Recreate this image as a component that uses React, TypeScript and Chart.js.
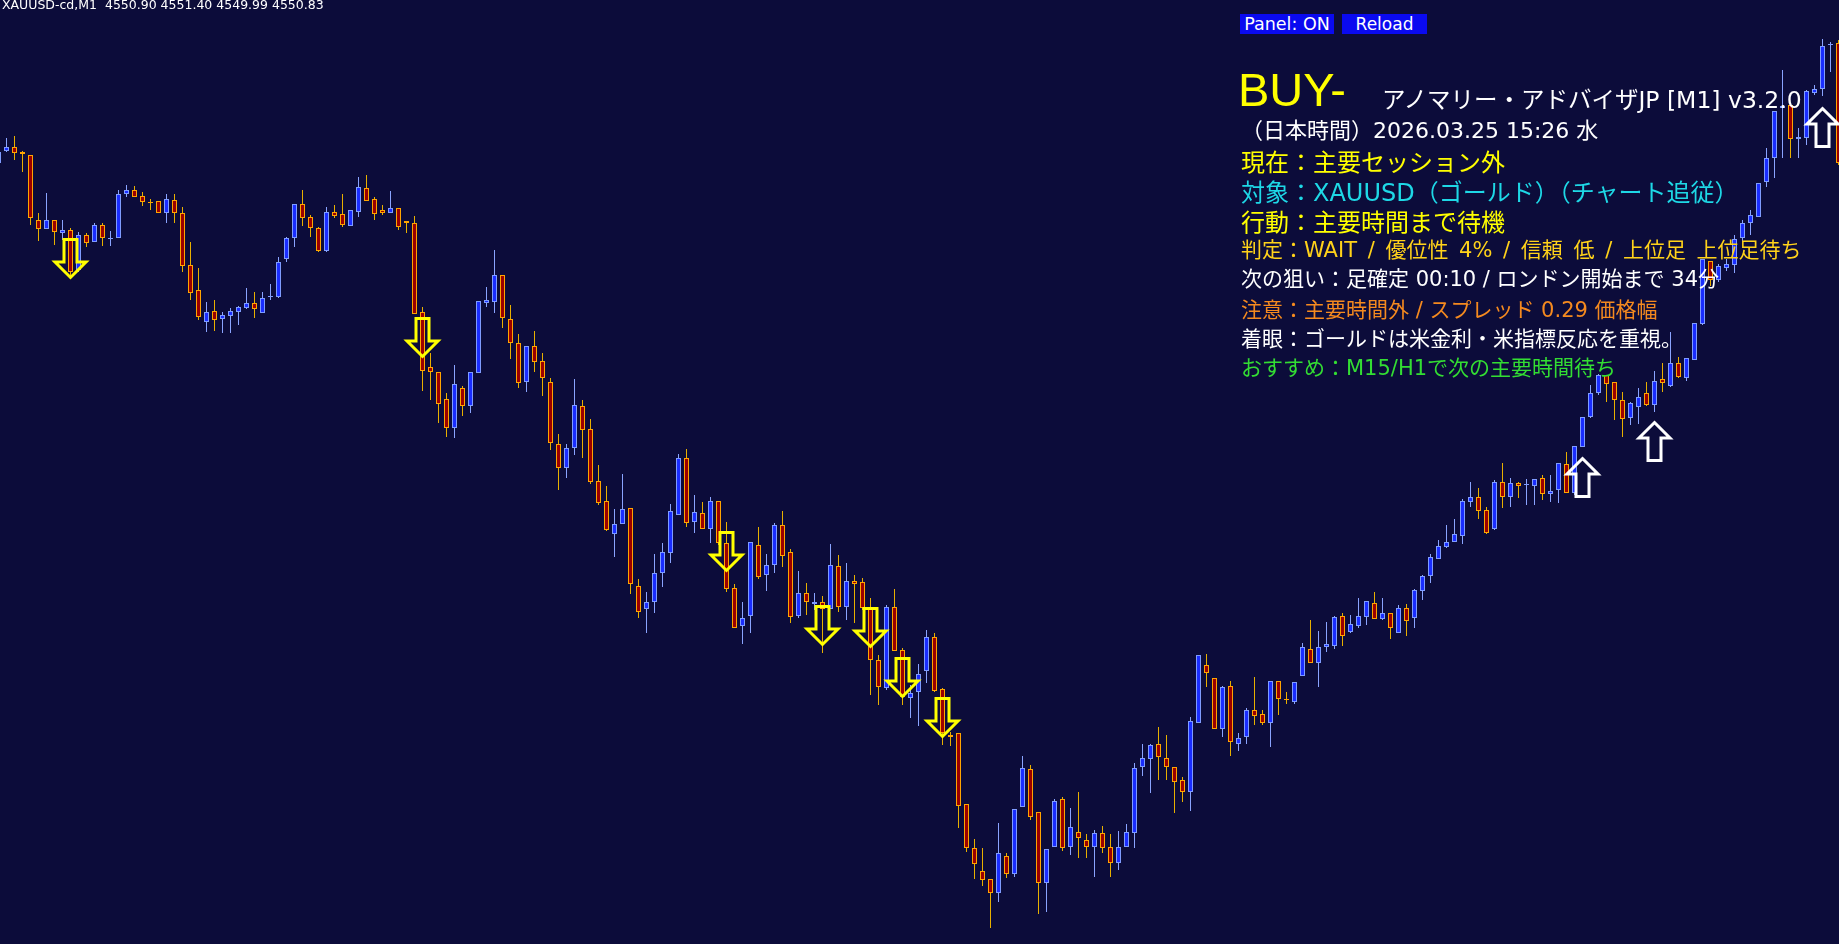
import React, { useEffect, useRef } from 'react';
import { Chart, registerables } from 'chart.js';

Chart.register(...registerables);

// ---- data (M1 bars, first bar index = -1, partially off-screen) ----
const FIRST_BAR = -1;

const opens = [
  4558.37, 4558.49, 4558.53, 4558.48, 4558.45, 4557.80, 4557.71, 4557.80, 4557.67, 4557.70,
  4557.30, 4557.65, 4557.58, 4557.75, 4557.61, 4557.62, 4558.06, 4558.10, 4558.04, 4557.98,
  4557.99, 4557.87, 4558.00, 4557.87, 4557.35, 4557.10, 4556.78, 4556.89, 4556.81, 4556.84,
  4556.88, 4556.92, 4556.97, 4556.87, 4557.03, 4557.03, 4557.41, 4557.62, 4557.96, 4557.83,
  4557.72, 4557.49, 4557.88, 4557.86, 4557.74, 4557.88, 4558.12, 4558.01, 4557.90, 4557.87,
  4557.92, 4557.79, 4557.77, 4556.88, 4556.33, 4556.28, 4556.01, 4555.72, 4556.12, 4555.94,
  4556.27, 4556.97, 4556.98, 4557.25, 4556.81, 4556.57, 4556.18, 4556.54, 4556.39, 4556.18,
  4555.56, 4555.32, 4555.52, 4555.94, 4555.71, 4555.19, 4554.99, 4554.66, 4554.76, 4554.92,
  4554.14, 4553.91, 4553.98, 4554.27, 4554.47, 4554.85, 4555.42, 4554.78, 4554.87, 4554.71,
  4554.99, 4554.57, 4554.12, 4553.74, 4553.84, 4554.55, 4554.25, 4554.35, 4554.75, 4554.48,
  4553.84, 4554.07, 4553.96, 4553.98, 4553.91, 4554.34, 4553.93, 4554.19, 4554.18, 4553.92,
  4553.40, 4553.12, 4553.93, 4553.50, 4553.02, 4553.08, 4553.29, 4553.63, 4553.11, 4552.65,
  4552.67, 4551.96, 4551.52, 4551.29, 4551.21, 4551.07, 4551.44, 4551.26, 4551.93, 4552.31,
  4551.88, 4551.17, 4551.53, 4552.01, 4551.53, 4551.68, 4551.60, 4551.53, 4551.67, 4551.53,
  4551.37, 4551.53, 4551.67, 4552.33, 4552.41, 4552.56, 4552.42, 4552.33, 4552.20, 4552.08,
  4552.77, 4553.35, 4553.22, 4552.71, 4553.14, 4552.56, 4552.63, 4552.90, 4552.86, 4552.77,
  4553.19, 4553.01, 4552.98, 4553.24, 4553.51, 4553.37, 4553.53, 4553.54, 4553.84, 4553.68,
  4553.74, 4553.83, 4553.97, 4553.81, 4553.87, 4553.67, 4553.92, 4553.82, 4554.09, 4554.24,
  4554.41, 4554.53, 4554.58, 4554.64, 4554.98, 4555.03, 4554.90, 4554.71, 4555.18, 4555.03,
  4555.17, 4555.15, 4555.14, 4555.22, 4555.06, 4555.10, 4555.36, 4555.07, 4555.53, 4555.83,
  4556.07, 4556.25, 4556.18, 4556.00, 4555.82, 4555.93, 4556.07, 4555.95, 4556.21, 4556.14,
  4556.37, 4556.22, 4556.40, 4556.76, 4557.39, 4557.20, 4557.32, 4557.35, 4557.62, 4557.77,
  4557.83, 4558.18, 4558.42, 4558.92, 4558.95, 4558.61, 4558.62, 4559.07, 4559.11, 4559.55, 4559.57,
];

const highs = [
  4558.50, 4558.62, 4558.64, 4558.49, 4558.45, 4557.87, 4558.07, 4557.80, 4557.80, 4557.72,
  4557.68, 4557.67, 4557.77, 4557.77, 4557.69, 4558.10, 4558.15, 4558.14, 4558.08, 4558.01,
  4557.99, 4558.06, 4558.06, 4557.93, 4557.58, 4557.32, 4556.98, 4557.00, 4556.88, 4556.92,
  4556.94, 4557.12, 4557.08, 4557.08, 4557.16, 4557.43, 4557.63, 4557.96, 4558.10, 4557.85,
  4557.73, 4557.93, 4557.95, 4558.06, 4557.90, 4558.23, 4558.25, 4558.03, 4557.95, 4558.09,
  4557.92, 4557.79, 4557.84, 4556.93, 4556.47, 4556.28, 4556.07, 4556.35, 4556.14, 4556.28,
  4556.99, 4557.13, 4557.50, 4557.25, 4556.95, 4556.66, 4556.54, 4556.69, 4556.47, 4556.22,
  4555.66, 4555.56, 4556.21, 4556.00, 4555.81, 4555.35, 4555.14, 4554.91, 4555.26, 4554.92,
  4554.21, 4554.08, 4554.46, 4554.57, 4554.96, 4555.46, 4555.51, 4555.05, 4554.98, 4555.03,
  4554.99, 4554.78, 4554.16, 4553.98, 4554.58, 4554.73, 4554.46, 4554.77, 4554.89, 4554.51,
  4554.29, 4554.17, 4554.07, 4554.04, 4554.56, 4554.45, 4554.37, 4554.25, 4554.22, 4554.02,
  4553.45, 4553.95, 4554.11, 4553.52, 4553.15, 4553.36, 4553.70, 4553.67, 4553.12, 4552.68,
  4552.67, 4551.96, 4551.61, 4551.52, 4551.21, 4551.77, 4551.47, 4551.91, 4552.44, 4552.35,
  4551.88, 4551.51, 4552.01, 4552.03, 4551.92, 4552.08, 4551.66, 4551.70, 4551.74, 4551.66,
  4551.69, 4551.76, 4552.37, 4552.56, 4552.56, 4552.73, 4552.65, 4552.33, 4552.23, 4552.83,
  4553.45, 4553.46, 4553.22, 4553.14, 4553.19, 4552.67, 4552.92, 4553.23, 4552.90, 4553.19,
  4553.19, 4553.08, 4553.18, 4553.57, 4553.80, 4553.69, 4553.78, 4553.84, 4553.87, 4553.85,
  4554.02, 4553.99, 4554.08, 4554.02, 4553.87, 4553.95, 4553.96, 4554.11, 4554.25, 4554.46,
  4554.60, 4554.75, 4554.81, 4555.01, 4555.18, 4555.12, 4554.93, 4555.20, 4555.37, 4555.22,
  4555.18, 4555.21, 4555.21, 4555.25, 4555.25, 4555.37, 4555.48, 4555.54, 4555.83, 4556.15,
  4556.26, 4556.25, 4556.18, 4556.08, 4555.98, 4556.12, 4556.18, 4556.29, 4556.37, 4556.68,
  4556.43, 4556.42, 4556.77, 4557.41, 4557.39, 4557.36, 4557.41, 4557.65, 4557.80, 4557.90,
  4558.17, 4558.52, 4558.89, 4559.30, 4558.95, 4558.72, 4559.10, 4559.15, 4559.61, 4559.58, 4559.60,
];

const lows = [
  4558.35, 4558.48, 4558.40, 4558.28, 4557.75, 4557.59, 4557.71, 4557.55, 4557.60, 4557.23,
  4557.28, 4557.53, 4557.58, 4557.54, 4557.54, 4557.62, 4558.03, 4558.03, 4557.94, 4557.90,
  4557.87, 4557.77, 4557.77, 4557.28, 4557.00, 4556.80, 4556.68, 4556.69, 4556.67, 4556.67,
  4556.75, 4556.91, 4556.82, 4556.87, 4557.00, 4557.02, 4557.38, 4557.53, 4557.74, 4557.63,
  4557.48, 4557.48, 4557.82, 4557.73, 4557.74, 4557.83, 4557.99, 4557.80, 4557.85, 4557.87,
  4557.70, 4557.67, 4556.86, 4556.09, 4556.00, 4555.77, 4555.63, 4555.62, 4555.84, 4555.87,
  4556.27, 4556.93, 4556.87, 4556.72, 4556.41, 4556.12, 4556.08, 4556.28, 4556.04, 4555.50,
  4555.10, 4555.22, 4555.45, 4555.42, 4555.16, 4554.95, 4554.69, 4554.43, 4554.76, 4554.06,
  4553.82, 4553.67, 4553.87, 4554.13, 4554.37, 4554.85, 4554.73, 4554.67, 4554.71, 4554.57,
  4554.55, 4554.08, 4553.72, 4553.56, 4553.67, 4554.21, 4554.09, 4554.27, 4554.33, 4553.77,
  4553.82, 4553.85, 4553.90, 4553.47, 4553.91, 4553.88, 4553.80, 4553.77, 4553.90, 4553.05,
  4552.95, 4553.10, 4553.49, 4552.95, 4552.82, 4552.74, 4553.17, 4553.08, 4552.55, 4552.54,
  4551.72, 4551.48, 4551.21, 4551.14, 4550.72, 4550.98, 4551.22, 4551.23, 4551.93, 4551.80,
  4550.86, 4550.88, 4551.53, 4551.49, 4551.45, 4551.42, 4551.42, 4551.23, 4551.47, 4551.23,
  4551.30, 4551.53, 4551.52, 4552.24, 4552.07, 4552.20, 4552.20, 4551.87, 4551.98, 4551.89,
  4552.77, 4553.13, 4552.71, 4552.63, 4552.44, 4552.49, 4552.56, 4552.75, 4552.75, 4552.53,
  4552.85, 4552.96, 4552.96, 4553.24, 4553.37, 4553.13, 4553.48, 4553.51, 4553.54, 4553.67,
  4553.72, 4553.75, 4553.81, 4553.80, 4553.61, 4553.67, 4553.64, 4553.72, 4554.00, 4554.17,
  4554.41, 4554.52, 4554.58, 4554.56, 4554.93, 4554.81, 4554.66, 4554.70, 4554.92, 4554.93,
  4555.02, 4554.95, 4554.95, 4555.00, 4554.98, 4554.97, 4555.07, 4555.05, 4555.53, 4555.82,
  4556.05, 4555.98, 4555.80, 4555.63, 4555.75, 4555.76, 4555.94, 4555.88, 4556.08, 4556.13,
  4556.22, 4556.19, 4556.40, 4556.75, 4557.14, 4557.18, 4557.29, 4557.27, 4557.58, 4557.65,
  4557.83, 4558.13, 4558.22, 4558.42, 4558.42, 4558.42, 4558.55, 4559.05, 4559.04, 4559.28, 4558.35,
];

const closes = [
  4558.48, 4558.53, 4558.47, 4558.46, 4557.82, 4557.71, 4557.80, 4557.68, 4557.70, 4557.28,
  4557.65, 4557.57, 4557.75, 4557.62, 4557.62, 4558.06, 4558.10, 4558.03, 4557.98, 4557.97,
  4557.87, 4558.01, 4557.87, 4557.34, 4557.07, 4556.83, 4556.88, 4556.80, 4556.85, 4556.89,
  4556.93, 4556.97, 4556.91, 4557.02, 4557.04, 4557.38, 4557.62, 4557.96, 4557.82, 4557.72,
  4557.49, 4557.88, 4557.84, 4557.75, 4557.90, 4558.13, 4557.99, 4557.86, 4557.87, 4557.92,
  4557.73, 4557.77, 4556.86, 4556.29, 4556.28, 4555.96, 4555.72, 4556.16, 4555.94, 4556.28,
  4556.99, 4557.00, 4557.25, 4556.82, 4556.57, 4556.17, 4556.54, 4556.38, 4556.22, 4555.57,
  4555.32, 4555.52, 4555.95, 4555.70, 4555.18, 4554.97, 4554.70, 4554.76, 4554.91, 4554.16,
  4553.88, 4553.98, 4554.27, 4554.48, 4554.89, 4555.42, 4554.77, 4554.88, 4554.71, 4554.99,
  4554.57, 4554.11, 4553.72, 4553.82, 4554.58, 4554.23, 4554.35, 4554.75, 4554.44, 4553.83,
  4554.07, 4553.98, 4553.98, 4553.91, 4554.35, 4553.93, 4554.19, 4554.16, 4553.92, 4553.40,
  4553.13, 4553.93, 4553.49, 4553.03, 4553.07, 4553.26, 4553.63, 4553.09, 4552.67, 4552.63,
  4551.94, 4551.52, 4551.36, 4551.20, 4551.07, 4551.47, 4551.26, 4551.91, 4552.32, 4551.83,
  4551.17, 4551.51, 4551.99, 4551.52, 4551.73, 4551.62, 4551.53, 4551.67, 4551.52, 4551.37,
  4551.53, 4551.68, 4552.32, 4552.42, 4552.55, 4552.43, 4552.33, 4552.18, 4552.08, 4552.79,
  4553.45, 4553.27, 4552.71, 4553.13, 4552.58, 4552.62, 4552.90, 4552.84, 4552.77, 4553.19,
  4553.01, 4553.00, 4553.18, 4553.53, 4553.37, 4553.53, 4553.56, 4553.83, 4553.64, 4553.76,
  4553.84, 4553.99, 4553.81, 4553.87, 4553.72, 4553.92, 4553.79, 4554.10, 4554.24, 4554.43,
  4554.54, 4554.58, 4554.66, 4554.99, 4555.03, 4554.89, 4554.67, 4555.18, 4555.03, 4555.17,
  4555.14, 4555.16, 4555.21, 4555.06, 4555.09, 4555.37, 4555.07, 4555.54, 4555.83, 4556.07,
  4556.25, 4556.16, 4556.00, 4555.81, 4555.97, 4556.03, 4555.95, 4556.19, 4556.17, 4556.37,
  4556.23, 4556.42, 4556.77, 4557.41, 4557.20, 4557.34, 4557.36, 4557.61, 4557.77, 4557.85,
  4558.17, 4558.42, 4558.89, 4558.94, 4558.61, 4558.63, 4559.09, 4559.11, 4559.54, 4559.56, 4558.37,
];

// signal arrows (bar index, price at arrow centre)
const sellBars = [8, 52, 90, 102, 108, 112, 117];
const sellPrices = [4557.41, 4556.62, 4554.48, 4553.74, 4553.72, 4553.22, 4552.82];
const buyBars = [197, 206, 227];
const buyPrices = [4555.22, 4555.58, 4558.72];

// visible window
const PRICE_TOP = 4560.0;
const PRICE_BOTTOM = 4550.56;
const BAR_MIN = -0.8125;
const BAR_MAX = 229.0625;

const headerText = 'XAUUSD-cd,M1  4550.90 4551.40 4549.99 4550.83';
const panelLines = [
  { t: '（日本時間）2026.03.25 15:26 水', c: '#ffffff', s: 22, top: 120, ws: 0 },
  { t: '現在：主要セッション外', c: '#ffff00', s: 24, top: 151, ws: 0 },
  { t: '対象：XAUUSD（ゴールド）（チャート追従）', c: '#1ed8e6', s: 24, top: 181, ws: 0 },
  { t: '行動：主要時間まで待機', c: '#ffff00', s: 24, top: 211, ws: 0 },
  { t: '判定：WAIT / 優位性 4% / 信頼 低 / 上位足 上位足待ち', c: '#ffd21a', s: 21, top: 240, ws: 4 },
  { t: '次の狙い：足確定 00:10 / ロンドン開始まで 34分', c: '#ffffff', s: 21, top: 269, ws: 0 },
  { t: '注意：主要時間外 / スプレッド 0.29 価格幅', c: '#f58a1f', s: 21, top: 300, ws: 0 },
  { t: '着眼：ゴールドは米金利・米指標反応を重視。', c: '#ffffff', s: 21, top: 329, ws: 0 },
  { t: 'おすすめ：M15/H1で次の主要時間待ち', c: '#33dd33', s: 21, top: 358, ws: 0 },
];

const BG = '#0c0c3a';
const BULL_FILL = '#1a2dff';
const BULL_BORDER = '#7f9cff';
const BULL_WICK = '#8aa4ff';
const BEAR_FILL = '#9a0000';
const BEAR_BORDER = '#ffa500';
const BEAR_WICK = '#e8b000';
const FONT = "'DejaVu Sans', 'Noto Sans CJK JP', sans-serif";

function makeArrow(dir: 'up' | 'down', color: string) {
  const c = document.createElement('canvas');
  c.width = 41;
  c.height = 48;
  const ctx = c.getContext('2d')!;
  ctx.translate(3.5, 3);
  const W = 34, H = 41, sh = 8, hh = 17, lw = 1.5;
  const cx = W / 2;
  let pts: number[][];
  if (dir === 'down') {
    pts = [
      [cx - sh + lw, lw], [cx + sh - lw, lw], [cx + sh - lw, H - hh], [W - lw, H - hh],
      [cx, H - lw], [lw, H - hh], [cx - sh + lw, H - hh],
    ];
  } else {
    pts = [
      [cx, lw], [W - lw, hh], [cx + sh - lw, hh], [cx + sh - lw, H - lw],
      [cx - sh + lw, H - lw], [cx - sh + lw, hh], [lw, hh],
    ];
  }
  ctx.beginPath();
  pts.forEach((p, i) => (i === 0 ? ctx.moveTo(p[0], p[1]) : ctx.lineTo(p[0], p[1])));
  ctx.closePath();
  ctx.lineWidth = 3;
  ctx.lineJoin = 'miter';
  ctx.strokeStyle = color;
  ctx.stroke();
  return c;
}

function fixRange(min: number, max: number) {
  return (s: any) => {
    s.min = min;
    s.max = max;
  };
}

export default function App() {
  const ref = useRef<HTMLCanvasElement>(null);

  useEffect(() => {
    document.body.style.margin = '0';
    document.body.style.background = BG;
    const canvas = ref.current!;
    const idx = opens.map((_, i) => i + FIRST_BAR);
    const bull = opens.map((o, i) => closes[i] >= o);
    const bodies = idx.map((k, i) => ({ x: k, y: [opens[i], closes[i]] }));
    const wicks = idx.map((k, i) => ({ x: k, y: [lows[i], highs[i]] }));

    const chart = new Chart(canvas, {
      type: 'bar',
      data: {
        datasets: [
          {
            type: 'line',
            data: sellBars.map((k, i) => ({ x: k, y: sellPrices[i] })),
            showLine: false,
            pointStyle: makeArrow('down', '#ffff00'),
            pointRadius: 10,
            order: 0,
          },
          {
            type: 'line',
            data: buyBars.map((k, i) => ({ x: k, y: buyPrices[i] })),
            showLine: false,
            pointStyle: makeArrow('up', '#ffffff'),
            pointRadius: 10,
            order: 0,
          },
          {
            type: 'bar',
            data: bodies,
            backgroundColor: bull.map((b) => (b ? BULL_FILL : BEAR_FILL)),
            borderColor: bull.map((b) => (b ? BULL_BORDER : BEAR_BORDER)),
            borderWidth: 1,
            borderSkipped: false,
            barThickness: 5,
            maxBarThickness: 5,
            grouped: false,
            inflateAmount: 0,
            order: 1,
          },
          {
            type: 'bar',
            data: wicks,
            backgroundColor: bull.map((b) => (b ? BULL_WICK : BEAR_WICK)),
            borderWidth: 0,
            barThickness: 1,
            maxBarThickness: 1,
            grouped: false,
            inflateAmount: 0,
            order: 2,
          },
        ],
      },
      options: {
        animation: false,
        responsive: false,
        devicePixelRatio: 1,
        events: [],
        layout: { padding: 0, autoPadding: false },
        plugins: { legend: { display: false }, tooltip: { enabled: false } },
        scales: {
          x: {
            type: 'linear', min: BAR_MIN, max: BAR_MAX, bounds: 'data', display: false, offset: false,
            afterDataLimits: fixRange(BAR_MIN, BAR_MAX), afterBuildTicks: fixRange(BAR_MIN, BAR_MAX),
          },
          y: {
            type: 'linear', min: PRICE_BOTTOM, max: PRICE_TOP, bounds: 'data', display: false,
            afterDataLimits: fixRange(PRICE_BOTTOM, PRICE_TOP), afterBuildTicks: fixRange(PRICE_BOTTOM, PRICE_TOP),
          },
        },
      },
    } as any);
    return () => chart.destroy();
  }, []);

  const text = (s: number, color: string) => ({
    position: 'absolute' as const,
    fontFamily: FONT,
    fontSize: s,
    lineHeight: `${s}px`,
    color,
    whiteSpace: 'pre' as const,
  });

  return (
    <div style={{ position: 'fixed', left: 0, top: 0, width: 1839, height: 944, background: BG, overflow: 'hidden' }}>
      <canvas ref={ref} width={1839} height={944} style={{ position: 'absolute', left: 0, top: 0 }} />
      <div style={{ ...text(12.5, '#ffffff'), left: 2, top: -1 }}>{headerText}</div>
      <div style={{ ...text(17.5, '#ffffff'), left: 1240, top: 14, width: 94, height: 20, lineHeight: '20px', background: '#0a0af0', textAlign: 'center' }}>Panel: ON</div>
      <div style={{ ...text(17, '#ffffff'), left: 1342, top: 14, width: 85, height: 20, lineHeight: '20px', background: '#0a0af0', textAlign: 'center' }}>Reload</div>
      <div style={{ ...text(47, '#ffff00'), fontFamily: "'Liberation Sans', Arial, sans-serif", left: 1238, top: 66 }}>BUY-</div>
      <div style={{ ...text(23.5, '#ffffff'), left: 1382, top: 89 }}>アノマリー・アドバイザJP [M1] v3.2.0</div>
      {panelLines.map((l, i) => (
        <div key={i} style={{ ...text(l.s, l.c), left: 1241, top: l.top, wordSpacing: l.ws }}>{l.t}</div>
      ))}
    </div>
  );
}
